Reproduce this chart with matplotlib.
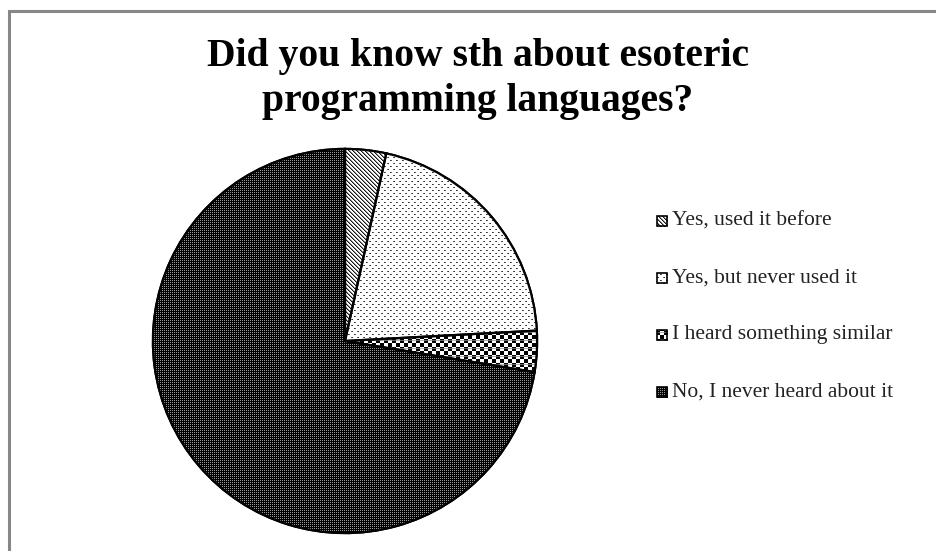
import numpy as np
import matplotlib
matplotlib.use("Agg")
import matplotlib.pyplot as plt
from matplotlib.patches import Rectangle, Wedge

labels = ["Yes, used it before", "Yes, but never used it",
          "I heard something similar", "No, I never heard about it"]
counts = [1, 6, 1, 21]
patterns = ["diag", "dots", "checker", "fine"]

W, H = 936, 551
fig = plt.figure(figsize=(W / 100, H / 100), dpi=100)
fig.patch.set_facecolor("white")


def texture(kind):
    """Full-figure RGBA pixel pattern used as a wedge fill (row 0 = bottom)."""
    yy, xx = np.mgrid[0:H, 0:W]
    g = np.ones((H, W))
    if kind == "diag":
        g[(xx + yy) % 4 == 0] = 0.1
        g[(xx + yy) % 4 == 1] = 0.55
    elif kind == "dots":
        m = ((yy % 6 == 0) & (xx % 6 < 2)) | ((yy % 6 == 3) & ((xx + 3) % 6 < 2))
        g[m] = 0.4
        g[m & (xx % 2 == 0)] = 0.2
    elif kind == "checker":
        m = ((xx // 4) + (yy // 4)) % 2 == 0
        g[m] = 0.0
        rows = (yy % 8 == 2)
        g[rows] = np.where(m[rows], 0.4, 0.7)
    elif kind == "fine":
        g[:] = 0.0
        g[(xx % 2 == 0) & (yy % 2 == 0)] = 0.6
    return np.dstack([g, g, g, np.ones_like(g)])


def fill_with(patch, kind):
    im = fig.figimage(texture(kind), xo=0, yo=0, origin="lower", zorder=2)
    im.set_clip_path(patch)


# chart frame
frame = Rectangle((9 / W, -0.05), 1.1, (H - 11) / H + 0.05, transform=fig.transFigure,
                  fill=False, edgecolor="#878787", linewidth=2.2, zorder=5)
fig.add_artist(frame)

title_kw = dict(ha="center", va="baseline", fontsize=28.5, fontweight="bold",
                family="Liberation Serif", zorder=5)
fig.text(478 / W, 1 - 66 / H, "Did you know sth about esoteric", **title_kw)
fig.text(478 / W, 1 - 111 / H, "programming languages?", **title_kw)

cx, cy, r = 345, 341, 194
ax = fig.add_axes([(cx - r) / W, (H - cy - r) / H, 2 * r / W, 2 * r / H])
ax.set_zorder(1)
wedges, _ = ax.pie(counts, startangle=90, counterclock=False, radius=1,
                   colors=["white"] * len(counts),
                   wedgeprops=dict(edgecolor="black", linewidth=1.6))
ax.set_xlim(-1.01, 1.01)
ax.set_ylim(-1.01, 1.01)
ax.set_aspect("equal")
ax.axis("off")

for w, kind in zip(wedges, patterns):
    fill_with(w, kind)
    outline = Wedge(w.center, w.r, w.theta1, w.theta2, transform=ax.transData,
                    fill=False, edgecolor="black", linewidth=1.6, zorder=3)
    fig.add_artist(outline)

# legend
ys = [221, 278, 335, 392]
for lab, y, kind in zip(labels, ys, patterns):
    sq = Rectangle((657 / W, 1 - (y + 5) / H), 10 / W, 10 / H, transform=fig.transFigure,
                   facecolor="white", edgecolor="none", zorder=2)
    fig.add_artist(sq)
    fill_with(sq, kind)
    border = Rectangle((657 / W, 1 - (y + 5) / H), 10 / W, 10 / H, transform=fig.transFigure,
                       fill=False, edgecolor="black", linewidth=1.2, zorder=3)
    fig.add_artist(border)
    fig.text(672 / W, 1 - y / H, lab, ha="left", va="center", fontsize=15.5,
             family="Liberation Serif", color="#222222", zorder=5)

fig.savefig("out.png", dpi=100)
